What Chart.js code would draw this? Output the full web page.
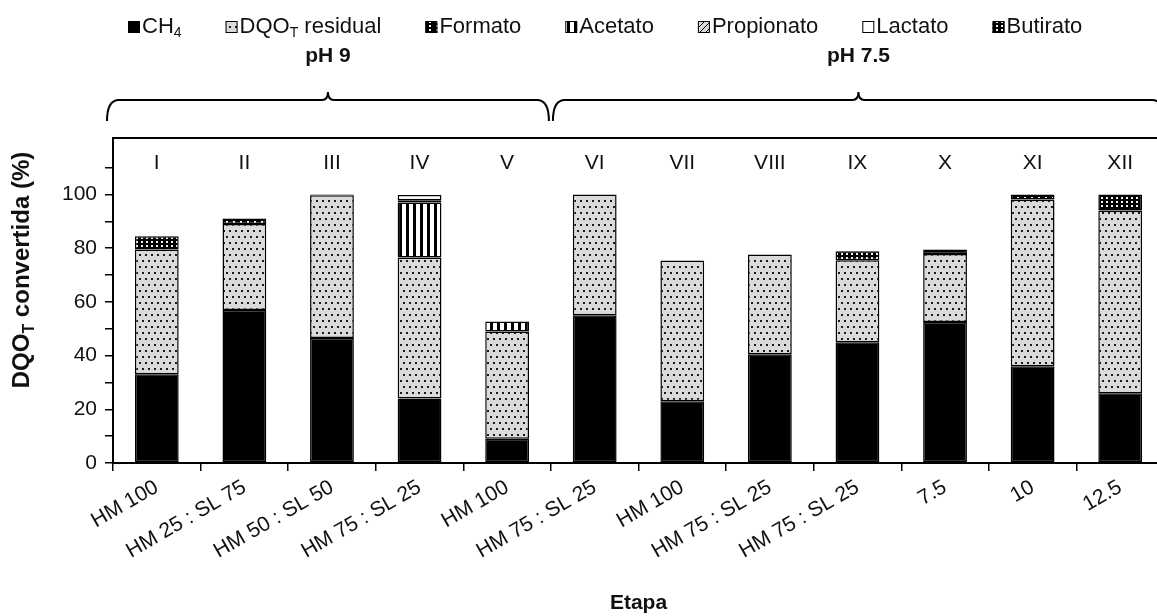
<!DOCTYPE html>
<html>
<head>
<meta charset="utf-8">
<script src="https://cdn.jsdelivr.net/npm/chart.js@4.4.0/dist/chart.umd.min.js"></script>
<style>
  html, body { margin: 0; padding: 0; background: #fff; overflow: hidden; }
  #wrap { width: 1170px; height: 616px; }
</style>
</head>
<body>
<div id="wrap"><canvas id="chart" width="1170" height="616"></canvas></div>
<script>
// Stage numerals (top of each bar) and feed labels (x axis)
const STAGES = ['I', 'II', 'III', 'IV', 'V', 'VI', 'VII', 'VIII', 'IX', 'X', 'XI', 'XII'];
const ETAPAS = ['HM 100', 'HM 25 : SL 75', 'HM 50 : SL 50', 'HM 75 : SL 25', 'HM 100',
                'HM 75 : SL 25', 'HM 100', 'HM 75 : SL 25', 'HM 75 : SL 25', '7.5', '10', '12.5'];

// Stacked segments, % of DQO_T converted
const CH4          = [33, 57, 46.5, 24, 9, 55, 23, 40.5, 45, 52.5, 36, 26];
const DQO_RESIDUAL = [46.5, 32, 53.2, 52.5, 40, 45, 52.4, 37.1, 30.5, 25.3, 62.1, 68];
const FORMATO      = [null, 2, 0.3, null, null, null, null, null, null, 1.7, 1.9, null];
const ACETATO      = [null, null, null, 20.5, 3.7, null, null, null, null, null, null, null];
const PROPIONATO   = [null, null, null, 0.8, null, null, null, null, null, null, null, null];
const LACTATO      = [null, null, null, 2, null, null, null, null, null, null, null, null];
const BUTIRATO     = [4.9, null, null, null, null, null, null, null, 3.3, null, null, 6];

const Y_TICKS   = [0, 20, 40, 60, 80, 100];
const PH_GROUPS = ['pH 9', 'pH 7.5'];
const PH_SPLIT  = 4.5;   // between stage V and VI

// legend text: [main, subscript, rest]
const LEGEND_TEXT = [['CH', '4', ''], ['DQO', 'T', ' residual'], ['Formato'], ['Acetato'],
                     ['Propionato'], ['Lactato'], ['Butirato']];

const FONT = '"Liberation Sans", Arial, sans-serif';
Chart.defaults.font.family = FONT;
Chart.defaults.color = '#111';

function tile(w, h, draw) {
  const c = document.createElement('canvas');
  c.width = w; c.height = h;
  const g = c.getContext('2d');
  draw(g);
  return g.createPattern(c, 'repeat');
}

const fills = {
  ch4: '#000',
  residual: tile(6, 12, g => {
    g.fillStyle = '#dadada'; g.fillRect(0, 0, 6, 12);
    g.fillStyle = '#1a1a1a'; g.fillRect(1, 2, 2, 2); g.fillRect(4, 8, 2, 2);
  }),
  formato: tile(7, 4, g => {
    g.fillStyle = '#000'; g.fillRect(0, 0, 7, 4);
    g.fillStyle = '#fff'; g.fillRect(2, 1, 2, 2);
  }),
  acetato: tile(7, 1, g => {
    g.fillStyle = '#fff'; g.fillRect(0, 0, 7, 1);
    g.fillStyle = '#000'; g.fillRect(0, 0, 3, 1);
  }),
  propionato: tile(6, 6, g => {
    g.fillStyle = '#d9d9d9'; g.fillRect(0, 0, 6, 6);
    g.strokeStyle = '#000'; g.lineWidth = 1;
    g.beginPath(); g.moveTo(0, 6); g.lineTo(6, 0); g.stroke();
  }),
  lactato: '#fff',
  butirato: tile(5, 4, g => {
    g.fillStyle = '#000'; g.fillRect(0, 0, 5, 4);
    g.fillStyle = '#eee'; g.fillRect(1, 1, 2, 2);
  }),
};

function seg(label, data, fill) {
  return { label, data, backgroundColor: fill, borderColor: '#000', borderWidth: 1.5, borderSkipped: false };
}

// text with a subscript part, returns drawn width
function subText(ctx, parts, x, y, size, bold) {
  const w = bold ? 'bold ' : '';
  ctx.font = `${w}${size}px ${FONT}`;
  ctx.fillText(parts[0], x, y);
  let dx = ctx.measureText(parts[0]).width;
  if (parts[1]) {
    ctx.font = `${w}${Math.round(size * 0.65)}px ${FONT}`;
    ctx.fillText(parts[1], x + dx, y + size * 0.3);
    dx += ctx.measureText(parts[1]).width;
    ctx.font = `${w}${size}px ${FONT}`;
    if (parts[2]) { ctx.fillText(parts[2], x + dx, y); dx += ctx.measureText(parts[2]).width; }
  }
  return dx;
}

function measureSub(ctx, parts, size, bold) {
  const w = bold ? 'bold ' : '';
  ctx.font = `${w}${size}px ${FONT}`;
  let total = ctx.measureText(parts[0]).width + (parts[2] ? ctx.measureText(parts[2]).width : 0);
  if (parts[1]) { ctx.font = `${w}${Math.round(size * 0.65)}px ${FONT}`; total += ctx.measureText(parts[1]).width; }
  return total;
}

function brace(ctx, x1, x2, yTop, yEnd) {
  const cx = (x1 + x2) / 2;
  ctx.beginPath();
  ctx.moveTo(x1, yEnd);
  ctx.quadraticCurveTo(x1, yTop, x1 + 12, yTop);
  ctx.lineTo(cx - 6, yTop);
  ctx.quadraticCurveTo(cx, yTop, cx, yTop - 8);
  ctx.quadraticCurveTo(cx, yTop, cx + 6, yTop);
  ctx.lineTo(x2 - 12, yTop);
  ctx.quadraticCurveTo(x2, yTop, x2, yEnd);
  ctx.stroke();
}

const decorations = {
  id: 'decorations',
  afterDraw(chart) {
    const { ctx, chartArea: a, scales: { x } } = chart;
    ctx.save();
    ctx.fillStyle = '#111';
    ctx.strokeStyle = '#000';

    // frame top
    ctx.lineWidth = 2;
    ctx.beginPath(); ctx.moveTo(a.left, a.top); ctx.lineTo(a.right, a.top); ctx.stroke();

    // stage numerals
    ctx.font = `21px ${FONT}`;
    ctx.textAlign = 'center'; ctx.textBaseline = 'middle';
    STAGES.forEach((s, i) => ctx.fillText(s, x.getPixelForValue(i), a.top + 25));

    // pH braces
    const split = x.getPixelForValue(PH_SPLIT);
    const spans = [[a.left - 6, split - 2], [split + 2, a.right]];
    ctx.lineWidth = 2;
    ctx.font = `bold 21px ${FONT}`;
    spans.forEach(([x1, x2], k) => {
      brace(ctx, x1, x2, 100, 121);
      ctx.fillText(PH_GROUPS[k], (x1 + x2) / 2, 56);
    });

    // legend
    ctx.textAlign = 'left';
    let lx = 128;
    chart.data.datasets.forEach((ds, i) => {
      ctx.fillStyle = ds.backgroundColor;
      ctx.fillRect(lx, 21, 12, 12);
      ctx.lineWidth = 1;
      ctx.strokeRect(lx + 0.5, 21.5, 11, 11);
      ctx.fillStyle = '#111';
      const w = subText(ctx, LEGEND_TEXT[i], lx + 14, 27, 22, false);
      lx += 14 + w + 44;
    });

    // y title
    ctx.translate(22, 270);
    ctx.rotate(-Math.PI / 2);
    const yt = ['DQO', 'T', ' convertida (%)'];
    const tw = measureSub(ctx, yt, 24, true);
    subText(ctx, yt, -tw / 2, 0, 24, true);
    ctx.restore();
  }
};

new Chart(document.getElementById('chart'), {
  type: 'bar',
  data: {
    labels: ETAPAS,
    datasets: [
      seg('CH4', CH4, fills.ch4),
      seg('DQOT residual', DQO_RESIDUAL, fills.residual),
      seg('Formato', FORMATO, fills.formato),
      seg('Acetato', ACETATO, fills.acetato),
      seg('Propionato', PROPIONATO, fills.propionato),
      seg('Lactato', LACTATO, fills.lactato),
      seg('Butirato', BUTIRATO, fills.butirato),
    ],
  },
  options: {
    responsive: false, animation: false, devicePixelRatio: 1,
    barPercentage: 0.5, categoryPercentage: 1,
    layout: { padding: { left: 0, right: 6, top: 138, bottom: 0 } },
    plugins: { legend: { display: false }, tooltip: { enabled: false } },
    scales: {
      x: {
        stacked: true, offset: true,
        grid: { offset: true, drawOnChartArea: false, tickLength: 8, color: '#000', lineWidth: 1.5 },
        border: { color: '#000', width: 2 },
        ticks: { font: { size: 21 }, color: '#111', minRotation: 30, maxRotation: 30, autoSkip: false, padding: 4 },
        title: { display: true, text: 'Etapa', font: { size: 21, weight: 'bold' }, color: '#111', padding: { top: 0, bottom: 0 } },
        afterFit: s => { s.height = 153; },
      },
      y: {
        stacked: true, min: 0, max: 121,
        ticks: { stepSize: 10, font: { size: 21 }, color: '#111', padding: 8,
                 callback: v => Y_TICKS.includes(v) ? v : '' },
        afterBuildTicks: s => { s.ticks = s.ticks.filter(t => t.value % 10 === 0 && t.value <= 110); },
        grid: { drawOnChartArea: false, tickLength: 8, color: '#000', lineWidth: 1.5 },
        border: { color: '#000', width: 2 },
        afterFit: s => { s.width = 113; },
      },
    },
  },
  plugins: [decorations],
});
</script>
</body>
</html>
